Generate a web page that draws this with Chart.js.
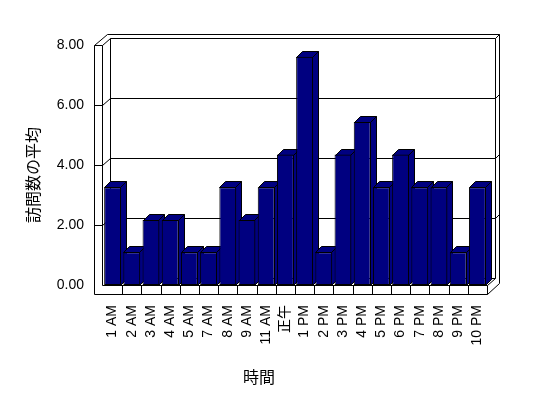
<!DOCTYPE html>
<html><head><meta charset="utf-8">
<script src="https://cdn.jsdelivr.net/npm/chart.js@4"></script>
<style>html,body{margin:0;padding:0;background:#fff;}canvas{display:block;}</style>
</head><body>
<canvas id="c" width="548" height="398"></canvas>
<script>
const categories = ['1 AM','2 AM','3 AM','4 AM','5 AM','7 AM','8 AM','9 AM','11 AM','正午','1 PM','2 PM','3 PM','4 PM','5 PM','6 PM','7 PM','8 PM','9 PM','10 PM'];
const visitAverages = [3.26,1.09,2.17,2.17,1.09,1.09,3.26,2.17,3.26,4.35,7.61,1.09,4.35,5.43,3.26,4.35,3.26,3.26,1.09,3.26];
const yTickValues = [0,2,4,6,8];
const xTitle = '時間';
const yTitle = '訪問数の平均';

const BAR = '#000080';
const DX = 8, DY = -7, OX = 4, OY = -4, BD = 6;

const walls = {
  id: 'walls',
  beforeDatasetsDraw(chart) {
    const {ctx, chartArea: a, scales: {x, y}} = chart;
    const L = Math.round(a.left) - 1, R = Math.round(a.right);
    const B = Math.round(y.getPixelForValue(0)), T = Math.round(y.getPixelForValue(8));
    const FL = L - 8, FB = B + 9;
    ctx.save();
    ctx.translate(0.5, 0.5);
    ctx.strokeStyle = '#000'; ctx.lineWidth = 1;
    const line = (pts) => { ctx.beginPath(); ctx.moveTo(pts[0][0], pts[0][1]); for (let i = 1; i < pts.length; i++) ctx.lineTo(pts[i][0], pts[i][1]); ctx.stroke(); };
    // back wall inner
    line([[L+DX, B+DY], [L+DX, T+DY], [R+DX, T+DY], [R+DX, B+DY]]);
    line([[L+DX, B+DY], [R+DX, B+DY]]);
    // back wall outer
    line([[FL+DX+OX+1, T+DY+OY], [R+DX+OX, T+DY+OY], [R+DX+OX, FB+DY+OY]]);
    line([[R+DX, T+DY], [R+DX+OX, T+DY+OY]]);
    // left wall front face and floor front face
    line([[FL, FB], [FL, T], [L, T], [L, B], [R, B], [R, FB], [FL, FB]]);
    line([[FL, T], [FL+DX+OX+1, T+DY+OY]]);
    line([[L, T], [L+DX, T+DY]]);
    // floor right
    line([[R, B], [R+DX, B+DY]]);
    line([[R, FB], [R+DX+OX, FB+DY+OY]]);
    // gridlines
    yTickValues.forEach(v => {
      if (v === 0 || v === 8) return;
      const Y = Math.round(y.getPixelForValue(v));
      line([[FL, Y], [L, Y], [L+DX, Y+DY], [R+DX, Y+DY], [R+DX+OX, Y+DY+OY]]);
    });
    // floor dividers
    for (let i = 1; i < categories.length; i++) {
      const xb = Math.round((x.getPixelForValue(i-1) + x.getPixelForValue(i)) / 2);
      line([[xb, B], [xb, FB]]);
    }
    // bar tops and sides
    const meta = chart.getDatasetMeta(0);
    ctx.fillStyle = BAR;
    meta.data.forEach(el => {
      const p = el.getProps(['x', 'y', 'base', 'width'], true);
      const l = Math.round(p.x - p.width/2), r = Math.round(p.x + p.width/2) - 1;
      const t = Math.round(p.y), b = Math.round(p.base);
      const poly = (pts) => { ctx.beginPath(); ctx.moveTo(pts[0][0], pts[0][1]); for (let i = 1; i < pts.length; i++) ctx.lineTo(pts[i][0], pts[i][1]); ctx.closePath(); ctx.fill(); ctx.stroke(); };
      poly([[r, t], [r+BD, t-BD], [r+BD, b-BD], [r, b]]);
      poly([[l, t], [l+BD, t-BD], [r+BD, t-BD], [r, t]]);
    });
    ctx.restore();
  },
  afterDraw(chart) {
    const ctx = chart.ctx;
    ctx.save();
    ctx.fillStyle = '#000';
    ctx.font = '16px "Noto Sans CJK JP"';
    ctx.textAlign = 'center'; ctx.textBaseline = 'middle';
    ctx.fillText(xTitle, 259, 377);
    ctx.translate(33, 175);
    ctx.rotate(-Math.PI/2);
    ctx.fillText(yTitle, 0, 0);
    ctx.restore();
  }
};

new Chart(document.getElementById('c'), {
  type: 'bar',
  data: {
    labels: categories,
    datasets: [{
      data: visitAverages,
      backgroundColor: BAR,
      borderColor: '#000',
      borderWidth: 1,
      borderSkipped: false,
      categoryPercentage: 1,
      barPercentage: 0.88
    }]
  },
  options: {
    responsive: false,
    animation: false,
    events: [],
    layout: {padding: {top: 45, right: 61, left: 0, bottom: 0}},
    plugins: {legend: {display: false}, tooltip: {enabled: false}},
    scales: {
      x: {
        grid: {display: false, drawTicks: false},
        border: {display: false},
        ticks: {autoSkip: false, maxRotation: 90, minRotation: 90, padding: 5, color: '#000',
                font: {family: '"Liberation Sans", "Noto Sans CJK JP"', size: 14}},
        afterFit(s) { s.height = 98; }
      },
      y: {
        min: -0.5, max: 8,
        grid: {display: false, drawTicks: false},
        border: {display: false},
        afterBuildTicks(s) { s.ticks = yTickValues.map(v => ({value: v})); },
        ticks: {padding: 19, color: '#000', callback: v => Number(v).toFixed(2),
                font: {family: '"Liberation Sans"', size: 14}},
        afterFit(s) { s.width = 103; }
      }
    }
  },
  plugins: [walls]
});
</script>
</body></html>
